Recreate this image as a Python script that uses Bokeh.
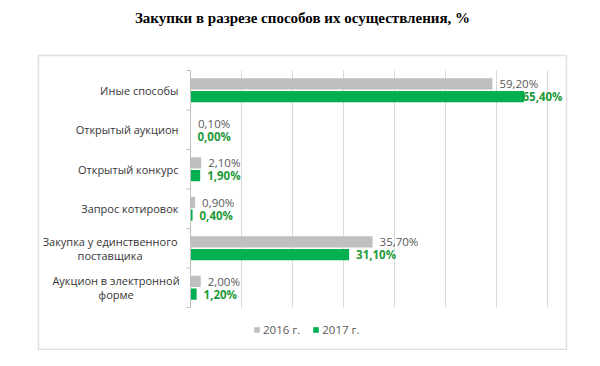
from bokeh.plotting import figure
from bokeh.models import (ColumnDataSource, LabelSet, Legend, LegendItem,
                          BoxAnnotation, Range1d, Label)
from bokeh.core.properties import value
from bokeh.embed import file_html
from bokeh.resources import INLINE

# ---- data ----
title_text = "Закупки в разрезе способов их осуществления, %"
categories = ["Иные способы", "Открытый аукцион", "Открытый конкурс", "Запрос котировок",
              "Закупка у единственного\nпоставщика", "Аукцион в электронной\nформе"]
series_names = ["2016 г.", "2017 г."]
values_2016 = [59.2, 0.1, 2.1, 0.9, 35.7, 2.0]
values_2017 = [65.4, 0.0, 1.9, 0.4, 31.1, 1.2]
x_ticks = [0, 10, 20, 30, 40, 50, 60, 70]

# ---- styles / layout ----
GRAY = "#bfbfbf"
GREEN = "#00b050"
GRAY_TXT = "#595959"
GREEN_TXT = "#1f9a3a"
CAT_TXT = "#363636"
GRID = "#d9d9d9"
FONT = "Open Sans"
W, HGT = 584, 350
PLOT_L, PLOT_R = 190, 547        # pixel position of x_ticks[0] / x_ticks[-1]
PLOT_T, PLOT_B = 70, 307         # pixel top / bottom of the category bands
BORDER = (38, 566, 55, 349)      # left, right, top, bottom
OFF = 0.162
BAR_H = 0.285

n = len(categories)
ppx = (PLOT_R - PLOT_L) / (x_ticks[-1] - x_ticks[0])
ppy = (PLOT_B - PLOT_T) / n

def dx(px):
    return x_ticks[0] + (px - PLOT_L) / ppx

def dy(py):
    return (PLOT_B - py) / ppy

def fmt(v):
    return f"{v:.2f}%".replace(".", ",")

pos = [n - i - 0.5 for i in range(n)]  # first category at top

LBL_GAP = 7
LBL_W = 40

def lbl_off(v):
    end = PLOT_L + v * ppx + LBL_GAP + LBL_W
    limit = BORDER[1] - 4
    return LBL_GAP if end <= limit else LBL_GAP - (end - limit)

src = ColumnDataSource(dict(
    cat=categories,
    y16=[y + OFF for y in pos],
    y17=[y - OFF for y in pos],
    v16=values_2016,
    v17=values_2017,
    l16=[fmt(v) for v in values_2016],
    l17=[fmt(v) for v in values_2017],
    o16=[lbl_off(v) for v in values_2016],
    o17=[lbl_off(v) for v in values_2017],
))

p = figure(width=W, height=HGT,
           x_range=Range1d(dx(0), dx(W)), y_range=Range1d(dy(HGT), dy(0)),
           output_backend="svg", toolbar_location=None,
           min_border=0, min_border_left=0, min_border_right=0,
           min_border_top=0, min_border_bottom=0)
p.outline_line_color = None
p.background_fill_color = "white"
p.border_fill_color = "white"
p.xaxis.visible = False
p.yaxis.visible = False
p.grid.visible = False

# gridlines
p.segment(x0=x_ticks, x1=x_ticks, y0=[0] * len(x_ticks), y1=[n] * len(x_ticks),
          line_color=GRID, line_width=1)

# bars
r16 = p.hbar(y="y16", right="v16", left=0, height=BAR_H,
             source=src, fill_color=GRAY, line_color=None)
r17 = p.hbar(y="y17", right="v17", left=0, height=BAR_H,
             source=src, fill_color=GREEN, line_color=None)

# category axis line and boundary ticks
bounds = list(range(n + 1))
TICK = 4 / ppx
p.segment(x0=[0], x1=[0], y0=[0], y1=[n], line_color=GRAY, line_width=1)
p.segment(x0=[0] * len(bounds), x1=[-TICK] * len(bounds), y0=bounds, y1=bounds,
          line_color=GRAY, line_width=1)

# value labels
p.add_layout(LabelSet(x="v16", y="y16", text="l16", source=src,
                      x_offset="o16", text_baseline="middle", text_align="left",
                      text_font=value(FONT), text_font_size="11.5px", text_color=GRAY_TXT))
p.add_layout(LabelSet(x="v17", y="y17", text="l17", source=src,
                      x_offset="o17", text_baseline="middle", text_align="left",
                      text_font=value(FONT), text_font_size="11.5px", text_color=GREEN_TXT,
                      text_font_style="bold"))

# category labels (single-line right aligned; wrapped ones centred line by line)
CAT_GAP = 12
CHAR_W = 5.95
LINE_PX = 14
s_txt, s_y = [], []
m_txt, m_y, m_dx, m_dy = [], [], [], []
for c, y in zip(categories, pos):
    lines = c.split("\n")
    if len(lines) == 1:
        s_txt.append(c)
        s_y.append(y)
    else:
        half_w = CHAR_W * max(len(s) for s in lines) / 2
        for k, line in enumerate(lines):
            m_txt.append(line)
            m_y.append(y)
            m_dx.append(-(CAT_GAP + half_w))
            m_dy.append(((len(lines) - 1) / 2 - k) * LINE_PX)
src_single = ColumnDataSource(dict(t=s_txt, y=s_y, x=[0] * len(s_txt)))
src_multi = ColumnDataSource(dict(t=m_txt, y=m_y, x=[0] * len(m_txt), dx=m_dx, dy=m_dy))
p.add_layout(LabelSet(x="x", y="y", text="t", source=src_single,
                      x_offset=-CAT_GAP, text_align="right", text_baseline="middle",
                      text_font=value(FONT), text_font_size="11px", text_color=CAT_TXT))
p.add_layout(LabelSet(x="x", y="y", text="t", source=src_multi,
                      x_offset="dx", y_offset="dy", text_align="center",
                      text_baseline="middle",
                      text_font=value(FONT), text_font_size="11px", text_color=CAT_TXT))

# legend
legend = Legend(items=[LegendItem(label=series_names[0], renderers=[r16]),
                       LegendItem(label=series_names[1], renderers=[r17])],
                orientation="horizontal", location=(253, 13),
                border_line_color=None, background_fill_alpha=0,
                glyph_width=7, glyph_height=7, label_standoff=3, spacing=12,
                padding=0, margin=0, label_text_font=FONT, label_text_font_size="11.5px",
                label_text_color=GRAY_TXT)
p.add_layout(legend, "center")

# chart border
p.add_layout(BoxAnnotation(left=dx(BORDER[0]), right=dx(BORDER[1]),
                           top=dy(BORDER[2]), bottom=dy(BORDER[3]),
                           fill_alpha=0, line_color="#999999", line_width=1.5,
                           level="underlay"))

# title
p.add_layout(Label(x=dx(302), y=dy(17), text=title_text,
                   text_align="center", text_baseline="alphabetic",
                   text_font="Liberation Serif", text_font_style="bold",
                   text_font_size="15px", text_color="black"))

open("out.html", "w").write(file_html(p, INLINE))
